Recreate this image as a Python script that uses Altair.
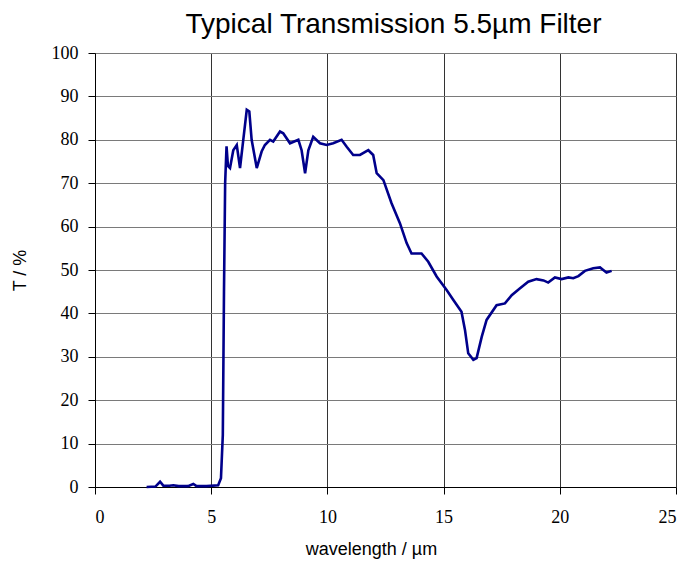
import altair as alt
import pandas as pd

wavelength = [2.22, 2.6, 2.8, 2.94, 3.2, 3.37, 3.6, 4.0, 4.23, 4.37, 4.8, 5.3, 5.42, 5.5, 5.55, 5.6,
              5.66, 5.72, 5.81, 5.95, 6.1, 6.24, 6.38, 6.53, 6.64, 6.74, 6.96, 7.17, 7.31, 7.53, 7.67,
              7.96, 8.1, 8.39, 8.75, 8.89, 9.04, 9.18, 9.39, 9.68, 9.97, 10.25, 10.61, 10.83, 11.11,
              11.4, 11.76, 11.97, 12.12, 12.41, 12.76, 13.12, 13.41, 13.62, 14.05, 14.34, 14.7, 15.13,
              15.42, 15.77, 15.92, 16.06, 16.28, 16.42, 16.64, 16.85, 17.28, 17.64, 17.93, 18.29,
              18.64, 19.0, 19.3, 19.5, 19.79, 20.08, 20.37, 20.58, 20.8, 21.08, 21.44, 21.73, 21.87,
              22.01, 22.23]
transmission = [0, 0.1, 1.2, 0.3, 0.3, 0.4, 0.2, 0.2, 0.7, 0.2, 0.2, 0.4, 2, 12, 45, 70,
                78.5, 74, 73.5, 77.6, 78.8, 73.5, 80, 86.9, 86.5, 80, 73.5, 77.3, 78.8, 80, 79.6,
                81.9, 81.5, 79.2, 80, 77.6, 72.3, 77.6, 80.7, 79.2, 78.8, 79.2, 80, 78.4, 76.5,
                76.5, 77.6, 76.5, 72.3, 70.7, 65.4, 60.8, 56.2, 53.8, 53.8, 51.9, 48.5, 45.4,
                43.1, 40.4, 36.2, 30.8, 29.3, 29.7, 34.6, 38.5, 41.9, 42.3, 44.2, 45.8,
                47.3, 47.9, 47.6, 47.1, 48.3, 47.9, 48.3, 48.1, 48.6, 49.8, 50.4, 50.6, 50.0,
                49.4, 49.8]

df = pd.DataFrame({"wavelength": wavelength, "T": transmission, "order": list(range(len(wavelength)))})

chart = alt.Chart(df).mark_line(color="#00008B", strokeWidth=2.6).encode(
    x=alt.X("wavelength:Q",
            scale=alt.Scale(domain=[0, 25], nice=False),
            axis=alt.Axis(values=[0, 5, 10, 15, 20, 25], title="wavelength / µm",
                          gridColor="#333333", titleX=276)),
    y=alt.Y("T:Q",
            scale=alt.Scale(domain=[0, 100], nice=False),
            axis=alt.Axis(values=list(range(0, 101, 10)), title="T / %",
                          gridColor="#7a7a7a")),
    order="order:Q",
).properties(
    width=581,
    height=434,
    title=alt.TitleParams("Typical Transmission 5.5µm Filter", font="Liberation Sans",
                          fontSize=28, fontWeight="normal", color="black",
                          anchor="middle", dx=8, offset=5),
    autosize=alt.AutoSizeParams(type="none"),
    padding={"left": 87, "top": 45, "right": 4, "bottom": 77},
).configure_view(
    stroke=None
).configure_axis(
    labelFont="Liberation Serif",
    labelFontSize=18,
    labelColor="black",
    titleFont="Liberation Sans",
    titleFontSize=18,
    titleFontWeight="normal",
    titleColor="black",
    domainColor="black",
    domainWidth=1,
    tickColor="black",
    tickSize=7,
    gridWidth=1,
    gridOpacity=1,
).configure_axisX(
    labelPadding=14,
    titlePadding=14,
).configure_axisY(
    labelPadding=10,
    titlePadding=22,
)

chart.save("out.html", embed_options={"renderer": "svg", "actions": False})
